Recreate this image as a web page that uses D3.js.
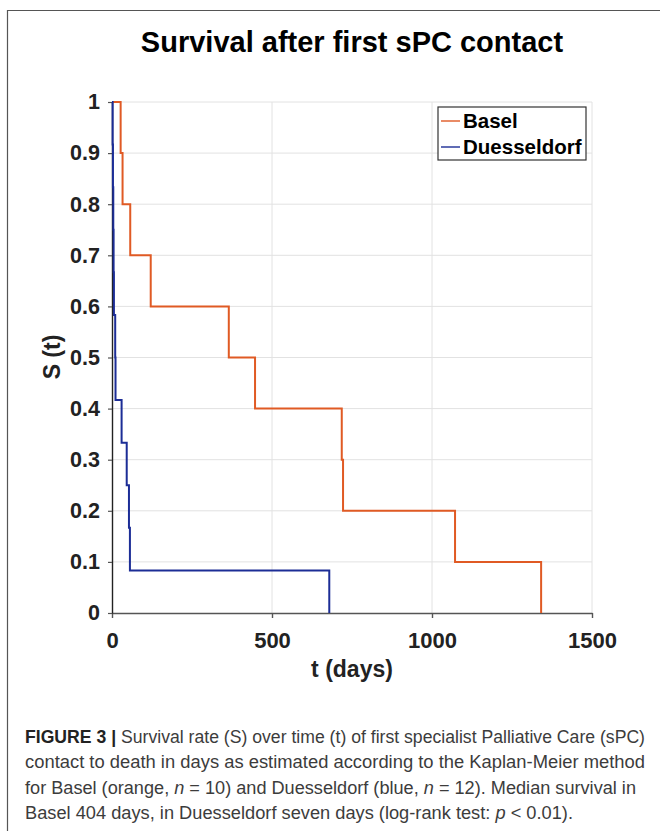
<!DOCTYPE html>
<html>
<head>
<meta charset="utf-8">
<script src="https://cdn.jsdelivr.net/npm/d3@7"></script>
<style>
  body { margin: 0; background: #fff; }
  svg { display: block; }
</style>
</head>
<body>
<svg id="chart" width="660" height="831"></svg>
<script>
// Kaplan-Meier step data
var baselTimes = [0, 27, 33, 57, 121, 365, 447, 718, 722, 1072, 1341]
var baselSurv = [1, 0.9, 0.8, 0.7, 0.6, 0.5, 0.4, 0.3, 0.2, 0.1, 0]

var duessTimes = [0, 2, 3, 4, 5, 6, 10, 11, 30, 46, 53, 56, 679]
var duessSurv = [1, 0.917, 0.833, 0.75, 0.667, 0.583, 0.5, 0.417, 0.333, 0.25, 0.167, 0.083, 0]

var xTicks = [0, 500, 1000, 1500]
var yTicks = [0, 0.1, 0.2, 0.3, 0.4, 0.5, 0.6, 0.7, 0.8, 0.9, 1]

var seriesNames = ['Basel', 'Duesseldorf']
var seriesColors = ['#e05a24', '#1c2d96']

var captionLines = [
  [['b', 'FIGURE 3 |'], ['', ' Survival rate (S) over time (t) of first specialist Palliative Care (sPC)']],
  [['', 'contact to death in days as estimated according to the Kaplan-Meier method']],
  [['', 'for Basel (orange, '], ['i', 'n'], ['', ' = 10) and Duesseldorf (blue, '], ['i', 'n'], ['', ' = 12). Median survival in']],
  [['', 'Basel 404 days, in Duesseldorf seven days (log-rank test: '], ['i', 'p'], ['', ' < 0.01).']]
]
var captionWidths = [620, 620, 611, 548]

var svg = d3.select('#chart')
var font = 'Liberation Sans, Arial, Helvetica, sans-serif'

// frame (left + top)
svg.append('path')
  .attr('d', 'M7.5,831 V10.5 H660')
  .attr('fill', 'none')
  .attr('stroke', '#555')
  .attr('stroke-width', 1.2)

var plotLeft = 112, plotRight = 592, plotTop = 102, plotBottom = 613

var x = d3.scaleLinear().domain([0, 1500]).range([plotLeft, plotRight])
var y = d3.scaleLinear().domain([0, 1]).range([plotBottom, plotTop])

// grid
var grid = svg.append('g').attr('stroke', '#e2e2e2').attr('stroke-width', 1)
grid.selectAll('.gy').data(yTicks.filter(function (d) { return d > 0 }))
  .enter().append('line')
  .attr('x1', plotLeft).attr('x2', plotRight)
  .attr('y1', function (d) { return y(d) }).attr('y2', function (d) { return y(d) })
grid.selectAll('.gx').data(xTicks.filter(function (d) { return d > 0 }))
  .enter().append('line')
  .attr('y1', plotTop).attr('y2', plotBottom)
  .attr('x1', function (d) { return x(d) }).attr('x2', function (d) { return x(d) })

// axes
var xAxis = svg.append('g')
  .attr('transform', 'translate(0,' + plotBottom + ')')
  .call(d3.axisBottom(x).tickValues(xTicks).tickFormat(d3.format('d'))
    .tickSize(5).tickPadding(14).tickSizeOuter(0))
xAxis.select('.domain').attr('stroke', '#555').attr('stroke-width', 1.6)
xAxis.selectAll('.tick line').attr('stroke', '#555').attr('stroke-width', 1.4)
xAxis.selectAll('text')
  .attr('font-family', font).attr('font-size', 22).attr('font-weight', 'bold').attr('fill', '#222')

var yAxis = svg.append('g')
  .attr('transform', 'translate(' + plotLeft + ',0)')
  .call(d3.axisLeft(y).tickValues(yTicks).tickSize(4).tickPadding(8).tickSizeOuter(0)
    .tickFormat(function (d) { return (d === 0 || d === 1) ? d : d.toFixed(1) }))
yAxis.select('.domain').attr('stroke', '#222').attr('stroke-width', 1.4)
yAxis.selectAll('.tick line').attr('stroke', '#555').attr('stroke-width', 1.2)
yAxis.selectAll('text')
  .attr('font-family', font).attr('font-size', 21.5).attr('font-weight', 'bold').attr('fill', '#222')

// survival curves
var line = d3.line()
  .x(function (d) { return x(d[0]) })
  .y(function (d) { return y(d[1]) })
  .curve(d3.curveStepAfter)

var curves = [d3.zip(baselTimes, baselSurv), d3.zip(duessTimes, duessSurv)]

svg.selectAll('.curve').data(curves)
  .enter().append('path')
  .attr('class', 'curve')
  .attr('d', line)
  .attr('fill', 'none')
  .attr('stroke', function (d, i) { return seriesColors[i] })
  .attr('stroke-width', 2)

// title and axis labels
svg.append('text')
  .attr('x', 352).attr('y', 52)
  .attr('text-anchor', 'middle')
  .attr('font-family', font).attr('font-size', 29).attr('font-weight', 'bold')
  .text('Survival after first sPC contact')

svg.append('text')
  .attr('x', 352).attr('y', 677)
  .attr('text-anchor', 'middle')
  .attr('font-family', font).attr('font-size', 23).attr('font-weight', 'bold').attr('fill', '#222')
  .text('t (days)')

svg.append('text')
  .attr('transform', 'translate(60,357) rotate(-90)')
  .attr('text-anchor', 'middle')
  .attr('font-family', font).attr('font-size', 23).attr('font-weight', 'bold').attr('fill', '#222')
  .text('S (t)')

// legend
var legend = svg.append('g')
legend.append('rect')
  .attr('x', 438).attr('y', 107).attr('width', 148).attr('height', 53)
  .attr('fill', '#fff').attr('stroke', '#333').attr('stroke-width', 1.2)

var item = legend.selectAll('.item').data(seriesNames)
  .enter().append('g')
  .attr('transform', function (d, i) { return 'translate(0,' + (121 + i * 26) + ')' })
item.append('line')
  .attr('x1', 441).attr('x2', 460)
  .attr('stroke', function (d, i) { return seriesColors[i] })
  .attr('stroke-width', 1.4)
item.append('text')
  .attr('x', 463).attr('y', 7)
  .attr('font-family', font).attr('font-size', 20.5).attr('font-weight', 'bold')
  .text(function (d) { return d })

// caption
var cap = svg.append('g')
captionLines.forEach(function (parts, i) {
  var t = cap.append('text')
    .attr('x', 25).attr('y', 743 + i * 25.3)
    .attr('font-family', 'Liberation Sans Narrow, Liberation Sans, Arial, sans-serif')
    .attr('font-size', 17.5)
    .attr('fill', '#3c3c3c')
    .attr('textLength', captionWidths[i])
    .attr('lengthAdjust', 'spacingAndGlyphs')
  parts.forEach(function (p) {
    var s = t.append('tspan').text(p[1])
    if (p[0] === 'b') s.attr('font-weight', 'bold').attr('fill', '#222')
    if (p[0] === 'i') s.attr('font-style', 'italic')
  })
})
</script>
</body>
</html>
